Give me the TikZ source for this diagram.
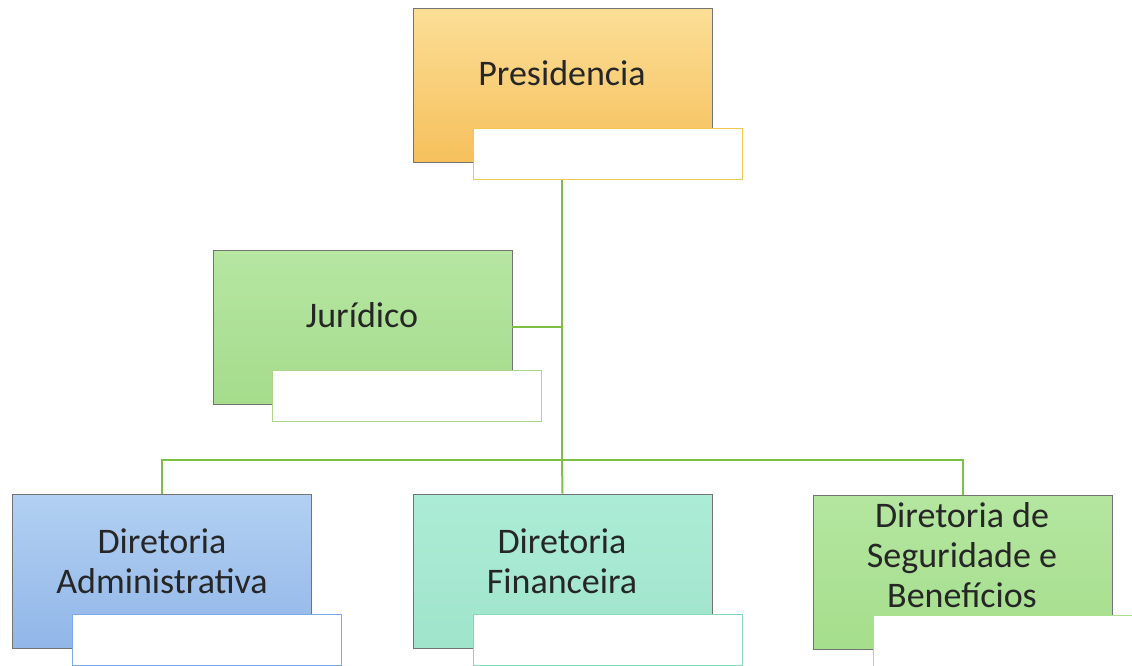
\documentclass[tikz,border=0pt]{standalone}
\usepackage{fontspec}
\setmainfont{Carlito}
\definecolor{lk}{HTML}{7CC146}
\begin{document}
\begin{tikzpicture}[x=1pt,y=-1pt,
  mainbox/.style={draw=black!55, line width=0.8pt, minimum width=299pt, minimum height=154pt, inner sep=0pt},
  subbox/.style={fill=white, line width=1pt, minimum width=269pt, minimum height=51pt, inner sep=0pt},
  lbl/.style={font=\fontsize{36}{40}\selectfont, text=black!85, align=center, inner sep=0pt},
  link/.style={draw=lk, line width=2pt},
]
\useasboundingbox (0,0) rectangle (1132,665);
% Presidencia
\node[mainbox, top color={rgb,255:red,251;green,222;blue,150}, bottom color={rgb,255:red,246;green,192;blue,92}] (pres) at (562.5,85) {};
\node[subbox, draw={rgb,255:red,240;green,200;blue,80}] (psub) at (607.5,153.5) {};
\node[lbl, anchor=base] (ptext) at (562,85) {Presidencia};
% Juridico
\node[mainbox, top color={rgb,255:red,182;green,230;blue,162}, bottom color={rgb,255:red,165;green,220;blue,140}] (jur) at (362.5,327) {};
\node[subbox, draw={rgb,255:red,170;green,215;blue,140}] (jsub) at (407,396) {};
\node[lbl, anchor=base] (jtext) at (362,327) {Jurídico};
% Administrativa
\node[mainbox, top color={rgb,255:red,178;green,208;blue,242}, bottom color={rgb,255:red,145;green,182;blue,232}] (adm) at (162,571) {};
\node[subbox, draw={rgb,255:red,120;green,170;blue,235}] (asub) at (206.5,640) {};
\node[lbl] (atext) at (162,561) {Diretoria\\Administrativa};
% Financeira
\node[mainbox, top color={rgb,255:red,172;green,236;blue,214}, bottom color={rgb,255:red,160;green,228;blue,204}] (fin) at (562.5,571) {};
\node[subbox, draw={rgb,255:red,130;green,220;blue,185}] (fsub) at (607.5,640) {};
\node[lbl] (ftext) at (562,561) {Diretoria\\Financeira};
% Seguridade
\node[mainbox, top color={rgb,255:red,180;green,230;blue,160}, bottom color={rgb,255:red,165;green,222;blue,140}] (seg) at (962.5,572) {};
\node[subbox, draw={rgb,255:red,170;green,225;blue,140}] (ssub) at (1007.5,641) {};
\node[lbl] (stext) at (962,555) {Diretoria de\\Seguridade e\\Benefícios};
% connectors
\coordinate (hub) at (562,460);
\draw[link] (psub.south -| hub) -- (hub);
\draw[link] (jur.east) -- (jur.east -| hub);
\draw[link] (adm.north) |- (hub) -| (seg.north);
\draw[link] (hub) -- (fin.north);
\end{tikzpicture}
\end{document}
